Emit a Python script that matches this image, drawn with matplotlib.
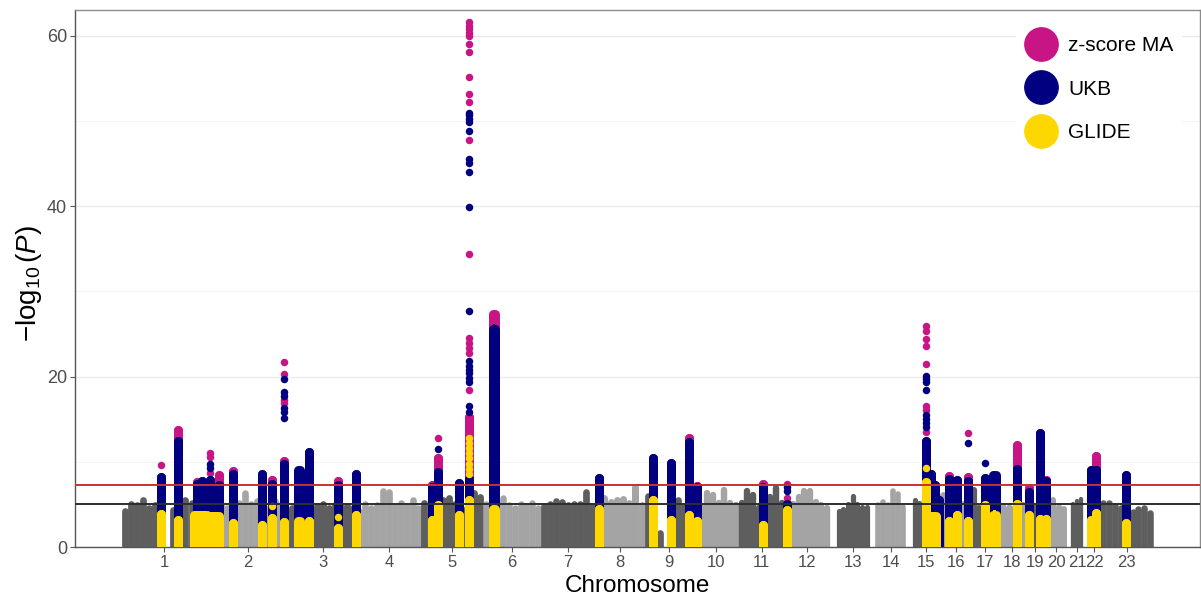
import numpy as np
import matplotlib
matplotlib.use("Agg")
import matplotlib.pyplot as plt
from matplotlib.lines import Line2D

plt.rcParams['font.family'] = ['Liberation Sans', 'DejaVu Sans']
plt.rcParams['mathtext.fontset'] = 'custom'
plt.rcParams['mathtext.rm'] = 'Liberation Sans'
plt.rcParams['mathtext.it'] = 'Liberation Sans:italic'

# chromosome sizes in Mb (23 = X), and where genotyped SNPs start (acrocentric ones)
chrom_names = [str(i) for i in range(1, 24)]
chrom_len = [249.3, 243.2, 198.0, 191.2, 180.9, 171.1, 159.1, 146.4, 141.2, 135.5,
             135.0, 133.9, 115.2, 107.3, 102.5, 90.4, 81.2, 78.1, 59.1, 63.0,
             48.1, 51.3, 155.3]
first_snp = [0, 0, 0, 0, 0, 0, 0, 0, 0, 0,
             0, 0, 19, 19, 20, 0, 0, 0, 0, 0,
             14, 16, 0]

# upper edge of the bulk of non significant SNPs, left to right along each chromosome
bg_tops = [
    [4.6, 5.5, 5.3, 5.9, 5.0, 5.3, 4.5, 0.0, 4.8, 5.0, 5.9, 5.6, 5.2, 5.0],
    [5.0, 5.2, 5.4, 5.0, 5.2, 5.6, 6.7, 5.4, 5.8, 5.2, 5.0, 5.8, 5.3, 5.0],
    [5.0, 5.3, 5.1, 4.9, 5.2, 5.4, 5.0, 5.3, 5.1, 5.2, 5.0],
    [4.6, 5.4, 5.0, 5.3, 7.0, 6.8, 5.2, 5.5, 5.2, 5.9, 5.0],
    [5.6, 5.0, 5.0, 5.9, 6.1, 5.4, 5.0, 5.0, 6.8, 6.3],
    [5.4, 5.0, 5.7, 6.1, 5.3, 5.0, 5.4, 5.2, 5.5, 5.0],
    [5.2, 5.4, 5.8, 5.7, 5.3, 5.5, 5.4, 6.8, 5.2],
    [5.0, 6.2, 5.7, 5.9, 6.1, 5.6, 7.5, 5.3],
    [6.4, 5.5, 2.0, 0.0, 5.0, 5.9, 5.2, 5.0],
    [4.8, 5.2, 6.7, 6.5, 5.5, 7.1, 5.5, 5.3],
    [5.6, 7.0, 6.5, 5.0, 4.5, 6.2, 7.3, 5.5],
    [5.0, 5.4, 6.2, 7.0, 7.0, 5.6, 5.3, 5.0],
    [4.5, 4.8, 5.4, 6.3, 5.3, 5.0, 5.0],
    [5.3, 5.6, 5.3, 6.9, 6.5, 5.0],
    [5.8, 5.5, 6.0, 5.0, 5.0, 5.0],
    [6.5, 5.5, 5.3, 5.5, 5.3],
    [7.0, 5.0, 5.2, 5.0, 5.0],
    [5.2, 5.0, 5.0, 5.4],
    [5.0, 5.0, 5.0],
    [5.2, 5.9, 5.0, 4.8],
    [5.3, 5.6, 5.9],
    [5.0, 5.0, 5.3],
    [5.6, 5.5, 5.2, 5.0, 4.6, 4.5, 4.9, 5.0, 4.4],
]

# dense columns of SNPs at each locus: (chrom, start Mb, end Mb, top -log10 P)
glide_cols = [
    (1, 114, 114, 3.9), (1, 165, 165, 3.2), (1, 212, 249, 3.7), (2, 0, 36, 3.6),
    (2, 78, 78, 2.8), (2, 164, 164, 2.6), (2, 193, 193, 3.35), (2, 227, 227, 2.9),
    (3, 26, 33, 3.0), (3, 57, 57, 3.0), (3, 143, 143, 2.2), (3, 197, 197, 3.8),
    (5, 30, 30, 3.2), (5, 50, 50, 4.9), (5, 111, 111, 3.7), (5, 139, 139, 5.5),
    (6, 29, 36, 4.5), (8, 11, 11, 4.5), (9, 24, 24, 5.5), (9, 77, 77, 3.2),
    (9, 130, 130, 3.8), (10, 12, 12, 3.0), (11, 72, 72, 2.6), (12, 8, 8, 4.3),
    (15, 59, 59, 7.6), (15, 66, 90, 3.6), (16, 25, 25, 3.0), (16, 48, 48, 3.7),
    (16, 82, 82, 3.0), (17, 42, 42, 4.9), (17, 64, 72, 3.8), (18, 53, 53, 5.1),
    (19, 12, 12, 3.8), (19, 44, 44, 3.3), (20, 2, 2, 3.3), (22, 25, 25, 3.2),
    (22, 38, 38, 4.0), (23, 75, 75, 2.8),
]
ukb_cols = [
    (1, 114, 114, 8.2), (1, 165, 165, 12.4), (1, 220, 220, 7.4), (1, 236, 236, 7.8),
    (2, 10, 10, 7.9), (2, 37, 37, 7.3), (2, 78, 78, 8.6), (2, 164, 164, 8.6),
    (2, 193, 193, 7.4), (2, 227, 227, 9.8), (3, 26, 33, 9.0), (3, 57, 57, 11.2),
    (3, 143, 143, 7.3), (3, 197, 197, 8.6), (5, 30, 30, 7.0), (5, 50, 50, 8.8),
    (5, 111, 111, 7.5), (5, 139, 139, 8.0), (6, 29, 36, 25.6), (8, 11, 11, 8.1),
    (9, 24, 24, 10.5), (9, 77, 77, 9.9), (9, 130, 130, 12.3), (10, 12, 12, 7.0),
    (11, 72, 72, 7.0), (12, 8, 8, 5.0), (15, 59, 59, 12.5), (15, 75, 75, 8.6),
    (15, 87, 87, 7.3), (15, 97, 97, 5.5), (16, 25, 25, 8.0), (16, 48, 48, 7.9),
    (16, 82, 82, 7.8), (17, 42, 42, 8.1), (17, 64, 72, 8.4), (18, 53, 53, 9.2),
    (19, 12, 12, 6.5), (19, 44, 44, 13.4), (20, 2, 2, 7.8), (22, 25, 25, 9.0),
    (22, 38, 38, 9.0), (23, 75, 75, 8.45),
]
ma_cols = [
    (1, 165, 165, 13.7), (1, 220, 220, 7.6), (2, 37, 37, 8.5), (2, 78, 78, 8.9),
    (2, 193, 193, 7.9), (2, 227, 227, 10.1), (3, 143, 143, 7.8), (5, 30, 30, 7.3),
    (5, 50, 50, 10.4), (5, 139, 139, 15.3), (6, 29, 36, 27.3), (9, 130, 130, 12.85),
    (10, 12, 12, 7.2), (11, 72, 72, 7.35), (16, 25, 25, 8.3), (16, 82, 82, 8.2),
    (18, 53, 53, 12.0), (19, 12, 12, 6.95), (20, 2, 2, 7.85), (22, 38, 38, 10.7),
]

# single SNPs standing apart from the columns: (chrom, Mb, -log10 P)
glide_dots = [
    (2, 193, 4.8), (3, 143, 3.5), (15, 59, 9.3),
    (5, 139, 12.8), (5, 139, 12.2), (5, 139, 11.6), (5, 139, 11.0),
    (5, 139, 10.4), (5, 139, 9.8), (5, 139, 9.2), (5, 139, 8.6),
]
ukb_dots = [
    (2, 10, 9.8), (2, 10, 9.3),
    (2, 227, 19.7), (2, 227, 18.2), (2, 227, 17.7), (2, 227, 16.3), (2, 227, 15.8), (2, 227, 15.2),
    (5, 50, 11.5),
    (5, 139, 15.9), (5, 139, 16.5), (5, 139, 19.4), (5, 139, 19.9), (5, 139, 20.4),
    (5, 139, 20.8), (5, 139, 21.2), (5, 139, 21.8), (5, 139, 27.75), (5, 139, 39.9),
    (5, 139, 44.0), (5, 139, 45.05), (5, 139, 45.6), (5, 139, 48.9), (5, 139, 49.9),
    (5, 139, 50.3), (5, 139, 50.7), (5, 139, 51.0),
    (12, 8, 7.0), (12, 8, 6.6),
    (15, 59, 14.1), (15, 59, 14.6), (15, 59, 15.0), (15, 59, 15.5), (15, 59, 18.4),
    (15, 59, 19.4), (15, 59, 19.7), (15, 59, 20.1),
    (16, 82, 12.25), (17, 42, 9.9),
]
ma_dots = [
    (1, 114, 9.6), (2, 10, 11.0), (2, 10, 10.6), (2, 10, 8.7),
    (2, 227, 21.7), (2, 227, 20.3), (2, 227, 17.3), (2, 227, 16.9),
    (5, 50, 12.8),
    (5, 139, 18.4), (5, 139, 22.8), (5, 139, 23.4), (5, 139, 24.0), (5, 139, 24.5),
    (5, 139, 34.4), (5, 139, 47.75), (5, 139, 52.3), (5, 139, 53.2), (5, 139, 55.2),
    (5, 139, 58.1), (5, 139, 59.1), (5, 139, 60.0), (5, 139, 60.3), (5, 139, 60.8),
    (5, 139, 61.2), (5, 139, 61.6),
    (9, 24, 9.4), (12, 8, 7.35), (12, 8, 5.75),
    (15, 59, 25.9), (15, 59, 25.4), (15, 59, 24.4), (15, 59, 23.6), (15, 59, 21.45),
    (15, 59, 16.5), (15, 59, 16.1), (15, 59, 13.55), (15, 87, 7.3), (16, 82, 13.35),
]

series_labels = ['z-score MA', 'UKB', 'GLIDE']
series_colors = ['#C71585', '#000080', '#FFD700']
gray_shades = ['#5e5e5e', '#a4a4a4']
genome_wide = 7.3
suggestive = 5.0

chrom_start = np.concatenate([[0], np.cumsum(chrom_len)[:-1]])
chrom_mid = chrom_start + (np.array(first_snp) + np.array(chrom_len)) / 2


def gx(c, pos):
    return chrom_start[c - 1] + pos


W, H, DPI = 12.01, 6.01, 100
fig = plt.figure(figsize=(W, H), dpi=DPI)
ax = fig.add_axes([75 / 1201, 54 / 601, 1125 / 1201, 537 / 601])
xmin, xmax = -138.4, 3174.3
ymin, ymax = 0, 63.05
ax.set_xlim(xmin, xmax)
ax.set_ylim(ymin, ymax)

px_per_mb = 1125 / (xmax - xmin)
px_per_y = 537 / (ymax - ymin)
pt = 72 / DPI
dot_px = 7.5
col_px = 9.0

# background SNPs, drawn as packed columns whose rounded tops reach the read edge
for i, tops in enumerate(bg_tops):
    n = len(tops)
    a = first_snp[i]
    step = (chrom_len[i] - a) / n
    xs = chrom_start[i] + a + step * (np.arange(n) + 0.5)
    w_px = step * px_per_mb * 1.12
    cap = w_px / 2 / px_per_y
    ys = np.maximum(np.array(tops) - cap, 0)
    ax.vlines(xs, 0, ys, colors=gray_shades[i % 2], lw=w_px * pt,
              capstyle='round', zorder=2)


def draw_cols(cols, color, z):
    for c, a, b, top in cols:
        x0, x1 = gx(c, a), gx(c, b)
        ax.vlines([x0, x1], 0, top, colors=color, lw=col_px * pt,
                  capstyle='round', zorder=z)
        if x1 > x0:
            r = col_px / 2 / px_per_y
            ax.fill_between([x0, x1], 0, top + r, color=color, lw=0, zorder=z)


def draw_dots(dots, color, z):
    xs = [gx(c, p) for c, p, v in dots]
    ys = [v for c, p, v in dots]
    ax.scatter(xs, ys, s=(dot_px * pt) ** 2, color=color, linewidths=0, zorder=z)


draw_cols(ma_cols, series_colors[0], 3)
draw_dots(ma_dots, series_colors[0], 3)
draw_cols(ukb_cols, series_colors[1], 4)
draw_dots(ukb_dots, series_colors[1], 4)
draw_cols(glide_cols, series_colors[2], 5)
draw_dots(glide_dots, series_colors[2], 5)

ax.axhline(genome_wide, color='#cc2f2f', lw=1.4, zorder=6)
ax.axhline(suggestive, color='#2e2e2e', lw=1.4, zorder=6)

# axes styling (ggplot like)
ax.set_axisbelow(True)
ax.set_yticks([0, 20, 40, 60])
ax.set_yticks([10, 30, 50], minor=True)
ax.grid(axis='y', which='major', color='#ebebeb', lw=1.0)
ax.grid(axis='y', which='minor', color='#f4f4f4', lw=0.8)
ax.tick_params(axis='y', which='minor', length=0)
ax.set_xticks(chrom_mid)
ax.set_xticklabels(chrom_names)
ax.tick_params(axis='both', which='major', length=3.6, width=0.8, color='#555555',
               labelsize=12, labelcolor='#4d4d4d', pad=2)
ax.tick_params(axis='y', labelsize=13)
for side in ['left', 'bottom']:
    ax.spines[side].set_color('#555555')
    ax.spines[side].set_linewidth(1.0)
for side in ['top', 'right']:
    ax.spines[side].set_color('#8c8c8c')
    ax.spines[side].set_linewidth(1.0)

ax.set_xlabel('Chromosome', fontsize=17.5, labelpad=4)
ax.set_ylabel(r'$-\log_{10}(P)$', fontsize=20)
ax.yaxis.set_label_coords(-31 / 1125, 0.49)

handles = [Line2D([], [], marker='o', ls='', color=c, markersize=24) for c in series_colors]
leg = ax.legend(handles, series_labels, loc='upper right', bbox_to_anchor=(0.993, 0.986),
                fontsize=15, frameon=True, labelspacing=1.17, handletextpad=0.5,
                borderpad=0.4, handlelength=1.6)
leg.get_frame().set_facecolor('white')
leg.get_frame().set_edgecolor('none')
leg.get_frame().set_alpha(1)

fig.savefig('out.png', dpi=DPI)
